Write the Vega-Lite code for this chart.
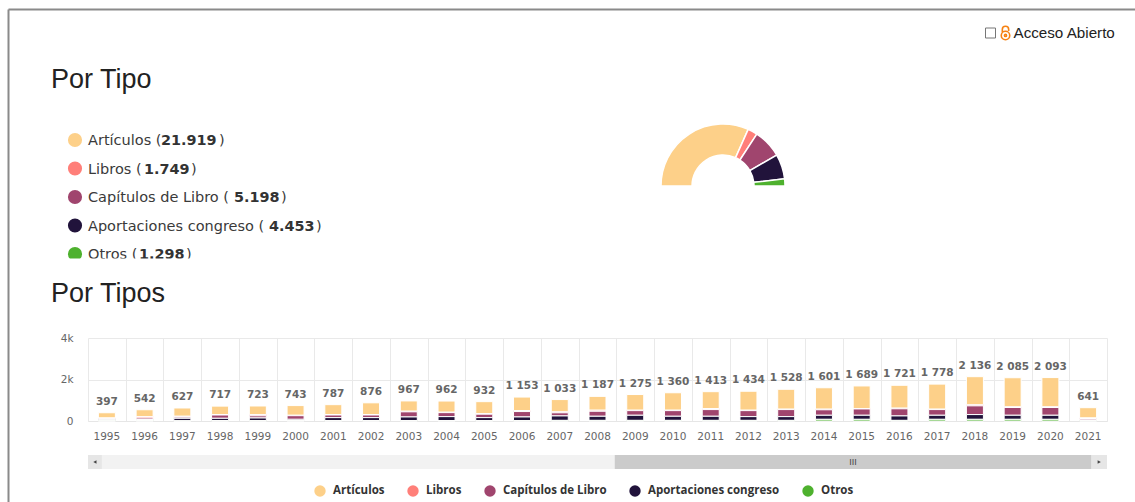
{
"$schema":"https://vega.github.io/schema/vega-lite/v6.json",
"width":1127,"height":493,
"autosize":{"type":"none"},
"padding":{"left":8,"top":9,"right":0,"bottom":0},
"background":"white",
"config":{"view":{"stroke":null}},
"datasets":{
"tipos":[
{"grupo":"Por Tipo","tipo":"Artículos","orden":1,"total":21919,"nombre":"Artículos (","num":"21.919"},
{"grupo":"Por Tipo","tipo":"Libros","orden":2,"total":1749,"nombre":"Libros (","num":"1.749"},
{"grupo":"Por Tipo","tipo":"Capítulos de Libro","orden":3,"total":5198,"nombre":"Capítulos de Libro (","num":"5.198"},
{"grupo":"Por Tipo","tipo":"Aportaciones congreso","orden":4,"total":4453,"nombre":"Aportaciones congreso (","num":"4.453"},
{"grupo":"Por Tipo","tipo":"Otros","orden":5,"total":1298,"nombre":"Otros (","num":"1.298"}
],
"totales":[
{"anio":"1995","t":397,"e":"397"},{"anio":"1996","t":542,"e":"542"},{"anio":"1997","t":627,"e":"627"},{"anio":"1998","t":717,"e":"717"},{"anio":"1999","t":723,"e":"723"},{"anio":"2000","t":743,"e":"743"},{"anio":"2001","t":787,"e":"787"},{"anio":"2002","t":876,"e":"876"},{"anio":"2003","t":967,"e":"967"},{"anio":"2004","t":962,"e":"962"},{"anio":"2005","t":932,"e":"932"},{"anio":"2006","t":1153,"e":"1 153"},{"anio":"2007","t":1033,"e":"1 033"},{"anio":"2008","t":1187,"e":"1 187"},{"anio":"2009","t":1275,"e":"1 275"},{"anio":"2010","t":1360,"e":"1 360"},{"anio":"2011","t":1413,"e":"1 413"},{"anio":"2012","t":1434,"e":"1 434"},{"anio":"2013","t":1528,"e":"1 528"},{"anio":"2014","t":1601,"e":"1 601"},{"anio":"2015","t":1689,"e":"1 689"},{"anio":"2016","t":1721,"e":"1 721"},{"anio":"2017","t":1778,"e":"1 778"},{"anio":"2018","t":2136,"e":"2 136"},{"anio":"2019","t":2085,"e":"2 085"},{"anio":"2020","t":2093,"e":"2 093"},{"anio":"2021","t":641,"e":"641"}
],
"serie":[
{"anio":"1995","Artículos":251,"Libros":30,"Capítulos de Libro":40,"Aportaciones congreso":60,"Otros":16},
{"anio":"1996","Artículos":331,"Libros":70,"Capítulos de Libro":70,"Aportaciones congreso":50,"Otros":21},
{"anio":"1997","Artículos":399,"Libros":40,"Capítulos de Libro":58,"Aportaciones congreso":120,"Otros":10},
{"anio":"1998","Artículos":408,"Libros":20,"Capítulos de Libro":159,"Aportaciones congreso":110,"Otros":20},
{"anio":"1999","Artículos":414,"Libros":60,"Capítulos de Libro":103,"Aportaciones congreso":126,"Otros":20},
{"anio":"2000","Artículos":467,"Libros":20,"Capítulos de Libro":175,"Aportaciones congreso":61,"Otros":20},
{"anio":"2001","Artículos":478,"Libros":20,"Capítulos de Libro":126,"Aportaciones congreso":143,"Otros":20},
{"anio":"2002","Artículos":567,"Libros":20,"Capítulos de Libro":126,"Aportaciones congreso":143,"Otros":20},
{"anio":"2003","Artículos":495,"Libros":30,"Capítulos de Libro":247,"Aportaciones congreso":175,"Otros":20},
{"anio":"2004","Artículos":539,"Libros":20,"Capítulos de Libro":192,"Aportaciones congreso":191,"Otros":20},
{"anio":"2005","Artículos":574,"Libros":30,"Capítulos de Libro":165,"Aportaciones congreso":143,"Otros":20},
{"anio":"2006","Artículos":648,"Libros":50,"Capítulos de Libro":260,"Aportaciones congreso":175,"Otros":20},
{"anio":"2007","Artículos":593,"Libros":45,"Capítulos de Libro":151,"Aportaciones congreso":214,"Otros":30},
{"anio":"2008","Artículos":667,"Libros":50,"Capítulos de Libro":242,"Aportaciones congreso":198,"Otros":30},
{"anio":"2009","Artículos":755,"Libros":20,"Capítulos de Libro":224,"Aportaciones congreso":246,"Otros":30},
{"anio":"2010","Artículos":840,"Libros":20,"Capítulos de Libro":272,"Aportaciones congreso":198,"Otros":30},
{"anio":"2011","Artículos":813,"Libros":50,"Capítulos de Libro":322,"Aportaciones congreso":198,"Otros":30},
{"anio":"2012","Artículos":914,"Libros":20,"Capítulos de Libro":289,"Aportaciones congreso":181,"Otros":30},
{"anio":"2013","Artículos":958,"Libros":20,"Capítulos de Libro":339,"Aportaciones congreso":181,"Otros":30},
{"anio":"2014","Artículos":1031,"Libros":30,"Capítulos de Libro":264,"Aportaciones congreso":196,"Otros":80},
{"anio":"2015","Artículos":1089,"Libros":20,"Capítulos de Libro":304,"Aportaciones congreso":196,"Otros":80},
{"anio":"2016","Artículos":1103,"Libros":30,"Capítulos de Libro":344,"Aportaciones congreso":214,"Otros":30},
{"anio":"2017","Artículos":1208,"Libros":20,"Capítulos de Libro":274,"Aportaciones congreso":196,"Otros":80},
{"anio":"2018","Artículos":1356,"Libros":50,"Capítulos de Libro":420,"Aportaciones congreso":230,"Otros":80},
{"anio":"2019","Artículos":1402,"Libros":33,"Capítulos de Libro":374,"Aportaciones congreso":196,"Otros":80},
{"anio":"2020","Artículos":1410,"Libros":33,"Capítulos de Libro":374,"Aportaciones congreso":196,"Otros":80},
{"anio":"2021","Artículos":495,"Libros":26,"Capítulos de Libro":70,"Aportaciones congreso":30,"Otros":20}
],
"barra":[{"fila":"barra","pista0":1963,"pista1":2022,"v0":1993.5,"v1":2021.1,"b0":1963,"b1":1963.8,"c0":2021.1,"c1":2022,"centro":2007.3,"fl0":1963.4,"fl1":2021.55}]
},
"layer":[
{"data":{"values":[{"k":0,"m":0}]},
 "mark":{"type":"point","opacity":0},
 "encoding":{
  "x":{"field":"k","type":"quantitative","scale":{"domain":[0,1]},"axis":{"orient":"top","title":null,"labels":false,"ticks":false,"grid":false,"domain":true,"domainColor":"#8a8a8a","domainWidth":2}},
  "y":{"field":"m","type":"quantitative","scale":{"domain":[0,1]},"axis":{"orient":"left","title":null,"labels":false,"ticks":false,"grid":false,"domain":true,"domainColor":"#8a8a8a","domainWidth":2}}
 }},
{"data":{"name":"totales"},
 "mark":{"type":"point","opacity":0},
 "encoding":{
  "x":{"field":"anio","type":"nominal","sort":null,"scale":{"type":"band","paddingInner":0,"paddingOuter":0,"range":[80,1099]},
   "axis":{"orient":"top","title":null,"labels":false,"domain":false,"ticks":false,"tickBand":"extent","grid":true,"gridColor":"#e9e9e9","gridWidth":1}},
  "y":{"field":"t","type":"quantitative","axis":null,"scale":{"domain":[0,4000],"nice":false,"range":[412,329]}}
 }},
{"data":{"name":"serie"},
 "transform":[{"fold":["Artículos","Libros","Capítulos de Libro","Aportaciones congreso","Otros"],"as":["tipo","valor"]},
  {"lookup":"tipo","from":{"data":{"name":"tipos"},"key":"tipo","fields":["orden"]}}],
 "mark":{"type":"bar","stroke":"white","strokeWidth":1,"width":17},
 "encoding":{
  "x":{"field":"anio","type":"nominal","sort":null,"scale":{"type":"band","paddingInner":0,"paddingOuter":0,"range":[80,1099]},
   "axis":{"orient":"bottom","offset":-81,"title":null,"labelAngle":0,"domain":true,"domainColor":"#e6e6e6","ticks":false,"grid":false,"labelColor":"#666666","labelFont":"DejaVu Sans","labelFontSize":10.5,"labelPadding":10}},
  "y":{"field":"valor","type":"quantitative","stack":"zero","scale":{"domain":[0,4000],"nice":false,"range":[412,329]},
   "axis":{"orient":"left","offset":-80,"title":null,"values":[0,2000,4000],"labelExpr":"datum.value/1000 + (datum.value ? 'k' : '')","domain":false,"ticks":false,"grid":true,"gridColor":"#e9e9e9","gridWidth":1,"labelColor":"#666666","labelFont":"DejaVu Sans","labelFontSize":10.5,"labelPadding":15}},
  "color":{"field":"tipo","type":"nominal","sort":null,"scale":{"domain":["Artículos","Libros","Capítulos de Libro","Aportaciones congreso","Otros"],"range":["#fdd089","#ff7f79","#a0456e","#21133b","#4eb12e"]},
   "legend":{"orient":"none","legendX":306,"legendY":476,"direction":"horizontal","columns":5,"gridAlign":"none","title":null,"symbolType":"circle","symbolSize":130,"symbolStrokeWidth":0,"labelFont":"Open Sans","labelFontWeight":"bold","labelFontSize":11.5,"labelColor":"#333333","columnPadding":22,"labelOffset":7}},
  "order":{"field":"orden","sort":"descending"}
 }},
{"data":{"name":"totales"},
 "mark":{"type":"text","font":"DejaVu Sans","fontWeight":"bold","fontSize":10.5,"fill":"#666666","dy":-11},
 "encoding":{
  "x":{"field":"anio","type":"nominal","sort":null,"axis":null,"scale":{"type":"band","paddingInner":0,"paddingOuter":0,"range":[80,1099]}},
  "y":{"field":"t","type":"quantitative","axis":null,"scale":{"domain":[0,4000],"nice":false,"range":[412,329]}},
  "text":{"field":"e"}
 }},
{"data":{"name":"tipos"},
 "mark":{"type":"arc","innerRadius":31,"outerRadius":62,"stroke":"white","strokeWidth":1.5},
 "encoding":{
  "x":{"field":"grupo","type":"nominal","axis":null,"scale":{"type":"point","domain":["Por Tipo"],"range":[715,715]}},
  "y":{"field":"grupo","type":"nominal","axis":null,"scale":{"type":"point","domain":["Por Tipo"],"range":[177,177]}},
  "theta":{"field":"total","type":"quantitative","stack":true,"scale":{"range":[-1.5708,1.5708]}},
  "order":{"field":"orden"},
  "color":{"field":"tipo","type":"nominal","legend":null,"scale":{"domain":["Artículos","Libros","Capítulos de Libro","Aportaciones congreso","Otros"],"range":["#fdd089","#ff7f79","#a0456e","#21133b","#4eb12e"]}}
 }},
{"data":{"name":"tipos"},
 "mark":{"type":"circle","size":200,"opacity":1},
 "encoding":{
  "x":{"field":"tipo","type":"nominal","axis":null,"sort":null,"scale":{"type":"point","domain":["Artículos","Libros","Capítulos de Libro","Aportaciones congreso","Otros"],"range":[67,67]}},
  "y":{"field":"tipo","type":"nominal","axis":null,"sort":null,"scale":{"type":"point","padding":0,"domain":["Artículos","Libros","Capítulos de Libro","Aportaciones congreso","Otros"],"range":[131,245]}},
  "color":{"field":"tipo","type":"nominal","legend":null,"scale":{"domain":["Artículos","Libros","Capítulos de Libro","Aportaciones congreso","Otros"],"range":["#fdd089","#ff7f79","#a0456e","#21133b","#4eb12e"]}}
 }},
{"data":{"name":"tipos"},
 "mark":{"type":"text","font":"DejaVu Sans","fontSize":14.5,"align":"left","baseline":"middle","fill":"#3a3a3a"},
 "encoding":{
  "x":{"field":"tipo","type":"nominal","axis":null,"sort":null,"scale":{"type":"point","domain":["Artículos","Libros","Capítulos de Libro","Aportaciones congreso","Otros"],"range":[80,80]}},
  "y":{"field":"tipo","type":"nominal","axis":null,"sort":null,"scale":{"type":"point","padding":0,"domain":["Artículos","Libros","Capítulos de Libro","Aportaciones congreso","Otros"],"range":[132,246]}},
  "text":{"field":"nombre"}
 }},
{"data":{"name":"tipos"},
 "mark":{"type":"text","font":"DejaVu Sans","fontSize":14.4,"fontWeight":"bold","align":"left","baseline":"middle","fill":"#333333","dx":{"expr":"{'Artículos':73,'Libros':56,'Capítulos de Libro':146,'Aportaciones congreso':181,'Otros':51}[datum.tipo]"}},
 "encoding":{
  "x":{"field":"tipo","type":"nominal","axis":null,"sort":null,"scale":{"type":"point","domain":["Artículos","Libros","Capítulos de Libro","Aportaciones congreso","Otros"],"range":[80,80]}},
  "y":{"field":"tipo","type":"nominal","axis":null,"sort":null,"scale":{"type":"point","padding":0,"domain":["Artículos","Libros","Capítulos de Libro","Aportaciones congreso","Otros"],"range":[132,246]}},
  "text":{"field":"num"}
 }},
{"data":{"name":"tipos"},
 "mark":{"type":"text","font":"DejaVu Sans","fontSize":14.5,"align":"left","baseline":"middle","fill":"#3a3a3a","text":")","dx":{"expr":"{'Artículos':131,'Libros':103,'Capítulos de Libro':193,'Aportaciones congreso':228,'Otros':98}[datum.tipo]"}},
 "encoding":{
  "x":{"field":"tipo","type":"nominal","axis":null,"sort":null,"scale":{"type":"point","domain":["Artículos","Libros","Capítulos de Libro","Aportaciones congreso","Otros"],"range":[80,80]}},
  "y":{"field":"tipo","type":"nominal","axis":null,"sort":null,"scale":{"type":"point","padding":0,"domain":["Artículos","Libros","Capítulos de Libro","Aportaciones congreso","Otros"],"range":[132,246]}}
 }},
{"data":{"values":[{"a":0,"b":1,"m":"m"}]},
 "mark":{"type":"rect","fill":"white"},
 "encoding":{
  "x":{"field":"a","type":"quantitative","axis":null,"scale":{"domain":[0,1],"range":[44,340]}},
  "x2":{"field":"b"},
  "y":{"field":"m","type":"nominal","axis":null,"scale":{"type":"band","paddingInner":0,"paddingOuter":0,"range":[249.5,266]}}
 }},
{"data":{"values":[{"titulo":"Por Tipo"},{"titulo":"Por Tipos"}]},
 "mark":{"type":"text","font":"Liberation Sans","fontSize":27,"align":"left","baseline":"middle","fill":"#222222"},
 "encoding":{
  "x":{"field":"titulo","type":"nominal","axis":null,"scale":{"type":"point","domain":["Por Tipo","Por Tipos"],"range":[43,43]}},
  "y":{"field":"titulo","type":"nominal","axis":null,"scale":{"type":"point","padding":0,"domain":["Por Tipo","Por Tipos"],"range":[71,285]}},
  "text":{"field":"titulo"}
 }},
{"data":{"values":[{"c":"Acceso Abierto"}]},
 "mark":{"type":"text","font":"Liberation Sans","fontSize":15.2,"align":"left","baseline":"middle","fill":"#222222"},
 "encoding":{
  "x":{"field":"c","type":"nominal","axis":null,"scale":{"type":"point","domain":["Acceso Abierto"],"range":[1005.5,1005.5]}},
  "y":{"field":"c","type":"nominal","axis":null,"scale":{"type":"point","domain":["Acceso Abierto"],"range":[24,24]}},
  "text":{"field":"c"}
 }},
{"data":{"values":[{"c":"casilla"}]},
 "mark":{"type":"point","shape":"square","size":100,"filled":true,"fill":"white","stroke":"#767676","strokeWidth":1,"opacity":1},
 "encoding":{
  "x":{"field":"c","type":"nominal","axis":null,"scale":{"type":"point","domain":["casilla"],"range":[982.5,982.5]}},
  "y":{"field":"c","type":"nominal","axis":null,"scale":{"type":"point","domain":["casilla"],"range":[24,24]}}
 }},
{"data":{"values":[{"c":"candado"}]},
 "mark":{"type":"point","shape":"M0.6,0.35A0.6,0.6 0 1,1 -0.6,0.35A0.6,0.6 0 1,1 0.6,0.35ZM0.15,0.35A0.15,0.15 0 1,1 -0.15,0.35A0.15,0.15 0 1,1 0.15,0.35ZM-0.45,-0.1V-0.5A0.45,0.45 0 0,1 0.45,-0.5V-0.3","size":200,"filled":false,"stroke":"#f68212","strokeWidth":1.6,"opacity":1},
 "encoding":{
  "x":{"field":"c","type":"nominal","axis":null,"scale":{"type":"point","domain":["candado"],"range":[997.5,997.5]}},
  "y":{"field":"c","type":"nominal","axis":null,"scale":{"type":"point","domain":["candado"],"range":[24,24]}}
 }},
{"data":{"name":"barra"},
 "mark":{"type":"rect","fill":"#f2f2f2"},
 "encoding":{
  "x":{"field":"pista0","type":"quantitative","axis":null,"scale":{"domain":[1963,2022],"nice":false,"zero":false,"range":[80,1099]}},
  "x2":{"field":"pista1"},
  "y":{"field":"fila","type":"nominal","axis":null,"scale":{"type":"band","paddingInner":0,"paddingOuter":0,"range":[446,460]}}
 }},
{"data":{"name":"barra"},
 "mark":{"type":"rect","fill":"#cbcbcb"},
 "encoding":{
  "x":{"field":"v0","type":"quantitative","axis":null,"scale":{"domain":[1963,2022],"nice":false,"zero":false,"range":[80,1099]}},
  "x2":{"field":"v1"},
  "y":{"field":"fila","type":"nominal","axis":null,"scale":{"type":"band","paddingInner":0,"paddingOuter":0,"range":[446,460]}}
 }},
{"data":{"name":"barra"},
 "mark":{"type":"rect","fill":"#e6e6e6"},
 "encoding":{
  "x":{"field":"b0","type":"quantitative","axis":null,"scale":{"domain":[1963,2022],"nice":false,"zero":false,"range":[80,1099]}},
  "x2":{"field":"b1"},
  "y":{"field":"fila","type":"nominal","axis":null,"scale":{"type":"band","paddingInner":0,"paddingOuter":0,"range":[446,460]}}
 }},
{"data":{"name":"barra"},
 "mark":{"type":"rect","fill":"#e6e6e6"},
 "encoding":{
  "x":{"field":"c0","type":"quantitative","axis":null,"scale":{"domain":[1963,2022],"nice":false,"zero":false,"range":[80,1099]}},
  "x2":{"field":"c1"},
  "y":{"field":"fila","type":"nominal","axis":null,"scale":{"type":"band","paddingInner":0,"paddingOuter":0,"range":[446,460]}}
 }},
{"data":{"name":"barra"},
 "mark":{"type":"point","shape":"triangle-left","size":14,"filled":true,"fill":"#444444","opacity":1},
 "encoding":{
  "x":{"field":"fl0","type":"quantitative","axis":null,"scale":{"domain":[1963,2022],"nice":false,"zero":false,"range":[80,1099]}},
  "y":{"field":"fila","type":"nominal","axis":null,"scale":{"type":"band","paddingInner":0,"paddingOuter":0,"range":[446,460]}}
 }},
{"data":{"name":"barra"},
 "mark":{"type":"point","shape":"triangle-right","size":14,"filled":true,"fill":"#444444","opacity":1},
 "encoding":{
  "x":{"field":"fl1","type":"quantitative","axis":null,"scale":{"domain":[1963,2022],"nice":false,"zero":false,"range":[80,1099]}},
  "y":{"field":"fila","type":"nominal","axis":null,"scale":{"type":"band","paddingInner":0,"paddingOuter":0,"range":[446,460]}}
 }},
{"data":{"name":"barra"},
 "mark":{"type":"text","text":"III","font":"Liberation Sans","fontSize":9,"fill":"#444444"},
 "encoding":{
  "x":{"field":"centro","type":"quantitative","axis":null,"scale":{"domain":[1963,2022],"nice":false,"zero":false,"range":[80,1099]}},
  "y":{"field":"fila","type":"nominal","axis":null,"scale":{"type":"band","paddingInner":0,"paddingOuter":0,"range":[446,460]}}
 }}
],
"resolve":{"scale":{"x":"independent","y":"independent"},"axis":{"x":"independent","y":"independent"}}
}
